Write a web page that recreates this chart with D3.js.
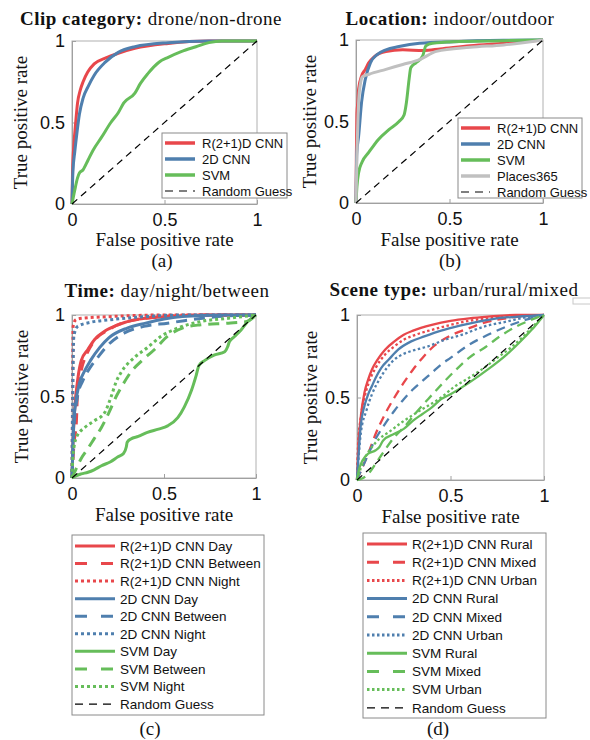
<!DOCTYPE html>
<html>
<head>
<meta charset="utf-8">
<script src="https://cdn.jsdelivr.net/npm/d3@7"></script>
<style>
  body { margin: 0; background: #fff; }
  svg { display: block; }
</style>
</head>
<body>
<svg id="chart" width="590" height="740"></svg>
<script>
// ---- shared axis ticks ----
const tickValues = [0, 0.5, 1];
const tickLabels = ["0", "0.5", "1"];

// ---- (a) Clip category: drone / non-drone ----  [FPR, TPR]
const clipR21D = [[0,0],[0.003,0.2],[0.01,0.36],[0.02,0.5],[0.03,0.62],[0.045,0.70],[0.06,0.75],[0.085,0.81],[0.12,0.86],[0.18,0.895],[0.25,0.925],[0.34,0.955],[0.52,0.985],[0.74,1],[1,1]];
const clip2D   = [[0,0],[0.005,0.2],[0.015,0.32],[0.025,0.42],[0.04,0.55],[0.06,0.65],[0.087,0.72],[0.12,0.79],[0.18,0.87],[0.25,0.93],[0.34,0.965],[0.52,0.99],[0.74,1],[1,1]];
const clipSVM  = [[0,0],[0.014,0.08],[0.03,0.16],[0.04,0.19],[0.06,0.21],[0.087,0.27],[0.114,0.33],[0.16,0.41],[0.21,0.5],[0.25,0.56],[0.28,0.62],[0.34,0.68],[0.37,0.74],[0.41,0.80],[0.47,0.87],[0.52,0.90],[0.59,0.935],[0.67,0.965],[0.74,0.99],[0.81,1],[1,1]];
const clipLegend = ["R(2+1)D CNN", "2D CNN", "SVM", "Random Guess"];

// ---- (b) Location: indoor / outdoor ----
const locR21D   = [[0,0],[0.002,0.3],[0.005,0.55],[0.01,0.62],[0.014,0.70],[0.03,0.78],[0.05,0.82],[0.068,0.86],[0.1,0.90],[0.16,0.93],[0.25,0.94],[0.36,0.935],[0.45,0.945],[0.61,0.965],[0.79,0.98],[1,1]];
const loc2D     = [[0,0],[0.004,0.3],[0.014,0.41],[0.03,0.62],[0.05,0.76],[0.077,0.86],[0.113,0.91],[0.16,0.94],[0.23,0.96],[0.34,0.98],[0.52,0.99],[0.79,0.998],[1,1]];
const locSVM    = [[0,0],[0.005,0.1],[0.014,0.185],[0.032,0.25],[0.068,0.31],[0.12,0.39],[0.176,0.45],[0.23,0.5],[0.257,0.54],[0.27,0.62],[0.284,0.76],[0.293,0.83],[0.32,0.86],[0.356,0.90],[0.374,0.965],[0.41,0.98],[0.52,0.99],[0.79,0.996],[1,1]];
const locPlaces = [[0,0],[0.005,0.3],[0.01,0.5],[0.014,0.62],[0.025,0.74],[0.035,0.775],[0.07,0.79],[0.16,0.82],[0.25,0.85],[0.34,0.88],[0.43,0.93],[0.61,0.955],[0.79,0.97],[1,1]];
const locLegend = ["R(2+1)D CNN", "2D CNN", "SVM", "Places365", "Random Guess"];

// ---- (c) Time: day / night / between ----
const timeR21DDay     = [[0,0],[0.005,0.2],[0.014,0.41],[0.033,0.62],[0.05,0.72],[0.087,0.79],[0.123,0.85],[0.177,0.90],[0.25,0.94],[0.34,0.97],[0.52,0.99],[0.7,1],[1,1]];
const timeR21DBetween = [[0,0],[0.01,0.2],[0.024,0.35],[0.03,0.52],[0.05,0.66],[0.08,0.76],[0.12,0.84],[0.2,0.91],[0.3,0.96],[0.5,0.99],[0.7,1],[1,1]];
const timeR21DNight   = [[0,0],[0.003,0.5],[0.006,0.93],[0.02,0.97],[0.05,0.98],[0.2,0.99],[0.5,1],[1,1]];
const time2DDay       = [[0,0],[0.005,0.2],[0.01,0.35],[0.02,0.46],[0.04,0.58],[0.07,0.66],[0.1,0.72],[0.15,0.80],[0.2,0.86],[0.3,0.92],[0.4,0.95],[0.5,0.975],[0.6,0.99],[0.8,1],[1,1]];
const time2DBetween   = [[0,0],[0.01,0.3],[0.03,0.5],[0.06,0.6],[0.1,0.68],[0.14,0.74],[0.195,0.815],[0.285,0.89],[0.39,0.93],[0.52,0.95],[0.61,0.965],[0.79,0.99],[1,1]];
const time2DNight     = [[0,0],[0.004,0.5],[0.01,0.87],[0.03,0.93],[0.1,0.955],[0.2,0.97],[0.4,0.99],[0.6,1],[1,1]];
const timeSVMDay      = [[0,0],[0.015,0.01],[0.05,0.025],[0.087,0.035],[0.12,0.05],[0.16,0.075],[0.21,0.1],[0.25,0.13],[0.28,0.15],[0.295,0.19],[0.30,0.22],[0.32,0.24],[0.36,0.255],[0.41,0.28],[0.47,0.30],[0.52,0.32],[0.575,0.37],[0.61,0.435],[0.65,0.54],[0.675,0.63],[0.69,0.69],[0.72,0.72],[0.775,0.755],[0.83,0.775],[0.846,0.805],[0.855,0.835],[0.88,0.865],[0.92,0.91],[0.955,0.96],[1,1]];
const timeSVMBetween  = [[0,0],[0.02,0.05],[0.05,0.12],[0.08,0.17],[0.12,0.24],[0.16,0.31],[0.2,0.40],[0.24,0.5],[0.28,0.58],[0.32,0.65],[0.38,0.72],[0.45,0.79],[0.52,0.87],[0.6,0.92],[0.7,0.94],[0.85,0.95],[0.95,0.96],[1,1]];
const timeSVMNight    = [[0,0],[0.005,0.13],[0.024,0.25],[0.07,0.31],[0.12,0.35],[0.177,0.40],[0.213,0.5],[0.24,0.59],[0.268,0.65],[0.34,0.74],[0.41,0.80],[0.485,0.87],[0.575,0.92],[0.7,0.96],[0.85,0.98],[1,1]];
const timeLegend = ["R(2+1)D CNN Day", "R(2+1)D CNN Between", "R(2+1)D CNN Night",
                    "2D CNN Day", "2D CNN Between", "2D CNN Night",
                    "SVM Day", "SVM Between", "SVM Night", "Random Guess"];

// ---- (d) Scene type: urban / rural / mixed ----
const sceneR21DRural = [[0,0],[0.01,0.25],[0.02,0.38],[0.04,0.53],[0.06,0.61],[0.08,0.67],[0.11,0.73],[0.15,0.79],[0.2,0.84],[0.25,0.88],[0.3,0.905],[0.4,0.94],[0.5,0.965],[0.6,0.98],[0.7,0.99],[0.85,1],[1,1]];
const sceneR21DMixed = [[0,0],[0.03,0.08],[0.06,0.16],[0.1,0.28],[0.15,0.4],[0.2,0.5],[0.25,0.59],[0.3,0.67],[0.35,0.74],[0.4,0.8],[0.5,0.875],[0.6,0.92],[0.7,0.96],[0.8,0.98],[0.9,0.995],[1,1]];
const sceneR21DUrban = [[0,0],[0.005,0.2],[0.02,0.38],[0.04,0.5],[0.06,0.58],[0.1,0.68],[0.15,0.76],[0.2,0.81],[0.25,0.85],[0.3,0.875],[0.4,0.91],[0.5,0.94],[0.6,0.965],[0.7,0.98],[0.8,0.99],[1,1]];
const scene2DRural   = [[0,0],[0.02,0.33],[0.04,0.45],[0.06,0.52],[0.08,0.57],[0.1,0.62],[0.13,0.68],[0.17,0.73],[0.22,0.79],[0.29,0.84],[0.36,0.87],[0.45,0.905],[0.55,0.935],[0.65,0.96],[0.75,0.98],[0.86,0.99],[1,1]];
const scene2DMixed   = [[0,0],[0.05,0.13],[0.1,0.25],[0.15,0.34],[0.2,0.42],[0.25,0.49],[0.3,0.55],[0.35,0.6],[0.4,0.65],[0.45,0.7],[0.5,0.74],[0.6,0.82],[0.7,0.88],[0.8,0.93],[0.9,0.97],[1,1]];
const scene2DUrban   = [[0,0],[0.02,0.28],[0.05,0.42],[0.08,0.52],[0.12,0.61],[0.16,0.68],[0.2,0.73],[0.25,0.765],[0.3,0.785],[0.38,0.81],[0.47,0.85],[0.56,0.88],[0.68,0.93],[0.8,0.96],[0.9,0.985],[1,1]];
const sceneSVMRural  = [[0,0],[0.01,0.06],[0.03,0.12],[0.06,0.16],[0.1,0.18],[0.12,0.2],[0.14,0.24],[0.2,0.28],[0.25,0.31],[0.3,0.36],[0.35,0.40],[0.4,0.44],[0.45,0.49],[0.5,0.52],[0.6,0.59],[0.7,0.67],[0.8,0.76],[0.9,0.87],[0.95,0.93],[1,1]];
const sceneSVMMixed  = [[0,0],[0.03,0.01],[0.07,0.05],[0.1,0.1],[0.13,0.15],[0.2,0.26],[0.26,0.33],[0.31,0.4],[0.38,0.49],[0.47,0.6],[0.54,0.68],[0.61,0.75],[0.68,0.8],[0.77,0.875],[0.86,0.935],[0.93,0.97],[1,1]];
const sceneSVMUrban  = [[0,0],[0.02,0.07],[0.05,0.15],[0.08,0.2],[0.12,0.25],[0.17,0.29],[0.24,0.35],[0.3,0.395],[0.38,0.45],[0.45,0.5],[0.52,0.565],[0.6,0.62],[0.68,0.68],[0.75,0.74],[0.82,0.8],[0.88,0.86],[0.94,0.93],[1,1]];
const sceneLegend = ["R(2+1)D CNN Rural", "R(2+1)D CNN Mixed", "R(2+1)D CNN Urban",
                     "2D CNN Rural", "2D CNN Mixed", "2D CNN Urban",
                     "SVM Rural", "SVM Mixed", "SVM Urban", "Random Guess"];

const randomGuess = [[0,0],[1,1]];

// ---- styling ----
const RED = "#e8474b", BLUE = "#4f7fae", GREEN = "#66bd5a", GRAY = "#c0c0c0";
const SERIF = "'Liberation Serif', 'Times New Roman', serif";
const SANS = "'Liberation Sans', Arial, sans-serif";

const svg = d3.select("#chart");

function drawPanel(p) {
  const g = svg.append("g");
  const x = d3.scaleLinear().domain([0, 1]).range([p.box[0], p.box[1]]);
  const y = d3.scaleLinear().domain([0, 1]).range([p.box[3], p.box[2]]);

  // frame
  g.append("rect")
    .attr("x", p.box[0]).attr("y", p.box[2])
    .attr("width", p.box[1] - p.box[0]).attr("height", p.box[3] - p.box[2])
    .attr("fill", "none").attr("stroke", "#b0b0b0").attr("stroke-width", 1);

  const xAxis = d3.axisBottom(x).tickValues(tickValues)
    .tickFormat((d, i) => tickLabels[i]).tickSizeInner(-4).tickSizeOuter(0).tickPadding(9);
  const yAxis = d3.axisLeft(y).tickValues(tickValues)
    .tickFormat((d, i) => tickLabels[i]).tickSizeInner(-4).tickSizeOuter(0).tickPadding(7);

  const gx = g.append("g").attr("transform", `translate(0,${p.box[3]})`).call(xAxis);
  const gy = g.append("g").attr("transform", `translate(${p.box[0]},0)`).call(yAxis);
  [gx, gy].forEach(a => {
    a.select(".domain").attr("stroke", "#a0a0a0");
    a.selectAll(".tick line").attr("stroke", "#a0a0a0");
    a.selectAll(".tick text").attr("fill", "#111").style("font-family", SANS).style("font-size", "18px");
  });

  // curves
  const line = d3.line().x(d => x(d[0])).y(d => y(d[1])).curve(d3.curveMonotoneX);
  p.series.forEach(s => {
    g.append("path").datum(s.data)
      .attr("d", line)
      .attr("fill", "none")
      .attr("stroke", s.color)
      .attr("stroke-width", s.width)
      .attr("stroke-dasharray", s.dash)
      .attr("stroke-linejoin", "round");
  });
  g.append("path").datum(randomGuess)
    .attr("d", d3.line().x(d => x(d[0])).y(d => y(d[1])))
    .attr("fill", "none").attr("stroke", "#000").attr("stroke-width", 1.2)
    .attr("stroke-dasharray", "7,5");

  // title
  const t = svg.append("text")
    .attr("x", p.titlePos[0]).attr("y", p.titlePos[1])
    .attr("text-anchor", "middle")
    .style("font-family", SERIF).style("font-size", "19px")
    .style("letter-spacing", "0.5px").attr("fill", "#111");
  t.append("tspan").style("font-weight", "bold").text(p.titleBold);
  t.append("tspan").text(" " + p.titleRest);

  // axis labels
  svg.append("text")
    .attr("x", (p.box[0] + p.box[1]) / 2).attr("y", p.xLabelY)
    .attr("text-anchor", "middle")
    .style("font-family", SERIF).style("font-size", "19px").attr("fill", "#111")
    .text("False positive rate");
  svg.append("text")
    .attr("transform", `translate(${p.yLabelX},${(p.box[2] + p.box[3]) / 2}) rotate(-90)`)
    .attr("text-anchor", "middle")
    .style("font-family", SERIF).style("font-size", "19px").attr("fill", "#111")
    .text("True positive rate");

  // legend
  const L = p.legend;
  const lg = svg.append("g");
  lg.append("rect").attr("x", L.x0).attr("y", L.y0)
    .attr("width", L.x1 - L.x0).attr("height", L.y1 - L.y0)
    .attr("fill", "#fff").attr("stroke", "#8a8a8a").attr("stroke-width", 1);
  const entries = p.series.map(s => ({ color: s.color, dash: s.legendDash || s.dash, width: L.lineWidth }))
    .concat([{ color: "#000", dash: "8,6", width: 1.2 }]);
  entries.forEach((e, i) => {
    const yy = L.rowY0 + i * L.rowStep;
    lg.append("line").attr("x1", L.sx0).attr("x2", L.sx1).attr("y1", yy).attr("y2", yy)
      .attr("stroke", e.color).attr("stroke-width", e.width).attr("stroke-dasharray", e.dash);
    lg.append("text").attr("x", L.tx).attr("y", yy).attr("dy", "0.36em")
      .style("font-family", SANS).style("font-size", L.fontSize + "px").attr("fill", "#111")
      .text(p.legendLabels[i]);
  });

  // sub-caption
  svg.append("text")
    .attr("x", p.caption[0]).attr("y", p.caption[1])
    .attr("text-anchor", "middle")
    .style("font-family", SERIF).style("font-size", "19px").attr("fill", "#111")
    .text(p.captionText);
}

const DASHC = "11,7", DOTC = "3,3";
const DASHD = "9,6", DOTD = "2.5,2.5";

drawPanel({
  box: [72, 257, 41, 204],
  series: [
    { data: clipR21D, color: RED, width: 3, dash: null },
    { data: clip2D, color: BLUE, width: 3, dash: null },
    { data: clipSVM, color: GREEN, width: 3, dash: null }
  ],
  titleBold: "Clip category:", titleRest: "drone/non-drone", titlePos: [151, 25],
  xLabelY: 246, yLabelX: 27,
  legendLabels: clipLegend,
  legend: { x0: 162, x1: 287, y0: 133, y1: 198, rowY0: 143, rowStep: 16, sx0: 165, sx1: 195, tx: 202, fontSize: 13, lineWidth: 3.5 },
  caption: [162, 267], captionText: "(a)"
});

drawPanel({
  box: [356, 543, 40, 203],
  series: [
    { data: locR21D, color: RED, width: 3, dash: null },
    { data: loc2D, color: BLUE, width: 3, dash: null },
    { data: locSVM, color: GREEN, width: 3, dash: null },
    { data: locPlaces, color: GRAY, width: 3, dash: null }
  ],
  titleBold: "Location:", titleRest: "indoor/outdoor", titlePos: [450, 25],
  xLabelY: 246, yLabelX: 316,
  legendLabels: locLegend,
  legend: { x0: 458, x1: 582, y0: 118, y1: 198, rowY0: 128, rowStep: 16, sx0: 461, sx1: 490, tx: 497, fontSize: 13, lineWidth: 3.5 },
  caption: [450, 267], captionText: "(b)"
});

drawPanel({
  box: [72, 256, 315, 478],
  series: [
    { data: timeR21DDay, color: RED, width: 3, dash: null },
    { data: timeR21DBetween, color: RED, width: 3, dash: DASHC, legendDash: "12,14" },
    { data: timeR21DNight, color: RED, width: 3, dash: DOTC },
    { data: time2DDay, color: BLUE, width: 3, dash: null },
    { data: time2DBetween, color: BLUE, width: 3, dash: DASHC, legendDash: "12,14" },
    { data: time2DNight, color: BLUE, width: 3, dash: DOTC },
    { data: timeSVMDay, color: GREEN, width: 3, dash: null },
    { data: timeSVMBetween, color: GREEN, width: 3, dash: DASHC, legendDash: "12,14" },
    { data: timeSVMNight, color: GREEN, width: 3, dash: DOTC }
  ],
  titleBold: "Time:", titleRest: "day/night/between", titlePos: [167, 297],
  xLabelY: 521, yLabelX: 28,
  legendLabels: timeLegend,
  legend: { x0: 72, x1: 264, y0: 535, y1: 715, rowY0: 546, rowStep: 17.56, sx0: 75, sx1: 115, tx: 120, fontSize: 13.5, lineWidth: 3 },
  caption: [150, 735], captionText: "(c)"
});

drawPanel({
  box: [357, 544, 315, 480],
  series: [
    { data: sceneR21DRural, color: RED, width: 2.3, dash: null },
    { data: sceneR21DMixed, color: RED, width: 2.3, dash: DASHD, legendDash: "12,14" },
    { data: sceneR21DUrban, color: RED, width: 2.3, dash: DOTD },
    { data: scene2DRural, color: BLUE, width: 2.3, dash: null },
    { data: scene2DMixed, color: BLUE, width: 2.3, dash: DASHD, legendDash: "12,14" },
    { data: scene2DUrban, color: BLUE, width: 2.3, dash: DOTD },
    { data: sceneSVMRural, color: GREEN, width: 2.3, dash: null },
    { data: sceneSVMMixed, color: GREEN, width: 2.3, dash: DASHD, legendDash: "12,14" },
    { data: sceneSVMUrban, color: GREEN, width: 2.3, dash: DOTD }
  ],
  titleBold: "Scene type:", titleRest: "urban/rural/mixed", titlePos: [454, 296],
  xLabelY: 523, yLabelX: 317,
  legendLabels: sceneLegend,
  legend: { x0: 363, x1: 546, y0: 533, y1: 718, rowY0: 544, rowStep: 18.2, sx0: 367, sx1: 407, tx: 412, fontSize: 13.5, lineWidth: 3 },
  caption: [438, 735], captionText: "(d)"
});

// small detached frame at the top right of the scene-type panel
svg.append("rect").attr("x", 573).attr("y", 298).attr("width", 20).attr("height", 6)
  .attr("fill", "none").attr("stroke", "#c8c8c8").attr("stroke-width", 1);
</script>
</body>
</html>
